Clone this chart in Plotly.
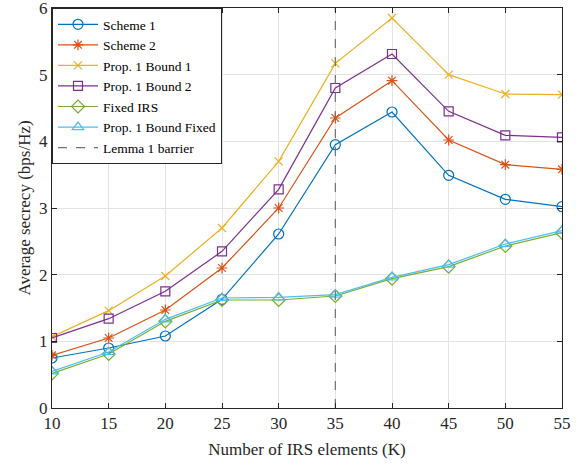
import plotly.graph_objects as go

K = [10, 15, 20, 25, 30, 35, 40, 45, 50, 55]
scheme1 = [0.75, 0.90, 1.08, 1.63, 2.61, 3.95, 4.44, 3.49, 3.13, 3.02]
scheme2 = [0.79, 1.05, 1.47, 2.10, 3.00, 4.35, 4.91, 4.02, 3.65, 3.58]
bound1 = [1.07, 1.46, 1.98, 2.70, 3.70, 5.17, 5.85, 5.00, 4.71, 4.70]
bound2 = [1.05, 1.34, 1.75, 2.35, 3.28, 4.80, 5.31, 4.45, 4.09, 4.06]
fixed_irs = [0.52, 0.81, 1.30, 1.62, 1.62, 1.68, 1.94, 2.12, 2.43, 2.63]
bound_fixed = [0.55, 0.84, 1.33, 1.65, 1.66, 1.70, 1.96, 2.15, 2.46, 2.66]
barrier_K = [35, 35]
barrier_y = [0, 6]

SERIF = "Times New Roman, Liberation Serif, DejaVu Serif, serif"

series = [
    ("Scheme 1", scheme1, "#0072BD", "circle-open", 10),
    ("Scheme 2", scheme2, "#D95319", "asterisk-open", 9),
    ("Prop. 1 Bound 1", bound1, "#EDB120", "x-thin-open", 8),
    ("Prop. 1 Bound 2", bound2, "#7E2F8E", "square-open", 9),
    ("Fixed IRS", fixed_irs, "#77AC30", "diamond-open", 10),
    ("Prop. 1 Bound Fixed", bound_fixed, "#4DBEEE", "triangle-up-open", 10),
]

fig = go.Figure()
for name, ys, col, sym, sz in series:
    fig.add_trace(go.Scatter(
        x=K, y=ys, name=name, mode="lines+markers",
        line=dict(color=col, width=1.2),
        marker=dict(symbol=sym, size=sz, color=col, line=dict(color=col, width=1.2)),
    ))
fig.add_trace(go.Scatter(
    x=barrier_K, y=barrier_y, name="Lemma 1 barrier", mode="lines",
    line=dict(color="#707070", width=1.2, dash="dash"),
))

axis_common = dict(
    showline=True, linecolor="#262626", linewidth=1, mirror="ticks",
    ticks="inside", ticklen=5, tickcolor="#262626",
    showgrid=True, gridcolor="#E3E3E3", gridwidth=1, zeroline=False,
    tickfont=dict(family=SERIF, size=17, color="#262626"),
    ticklabeloverflow="allow", automargin=False,
)

fig.update_layout(
    width=584, height=465,
    margin=dict(l=52, r=22, t=8, b=57),
    paper_bgcolor="white", plot_bgcolor="white",
    font=dict(family=SERIF, color="#262626"),
    xaxis=dict(range=[10, 55], tickvals=K, ticktext=[str(k) for k in K],
               title=dict(text="Number of IRS elements (K)", font=dict(family=SERIF, size=17), standoff=10),
               **axis_common),
    yaxis=dict(range=[0, 6], tickvals=[0, 1, 2, 3, 4, 5, 6],
               title=dict(text="Average secrecy (bps/Hz)", font=dict(family=SERIF, size=17), standoff=4),
               **axis_common),
    legend=dict(x=0.0, y=1.0, xanchor="left", yanchor="top",
                bgcolor="white", bordercolor="#262626", borderwidth=1,
                font=dict(family=SERIF, size=13.5, color="#000000"),
                tracegroupgap=0, itemwidth=40),
    showlegend=True,
)

fig.write_html("out.html", config={"displayModeBar": False},
               post_script="document.body.style.margin='0';")
